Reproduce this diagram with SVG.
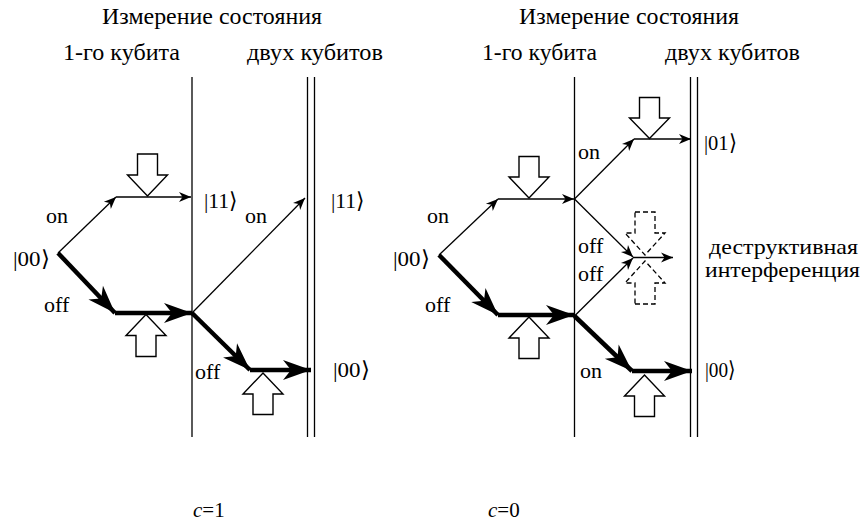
<svg xmlns="http://www.w3.org/2000/svg" width="865" height="525" viewBox="0 0 865 525">
<style>
text{font-family:"Liberation Serif","Times New Roman",serif;font-size:22px;fill:#000}
.h{font-size:23px}
.c{font-size:21px}
.thin{stroke:#000;stroke-width:1.3;fill:none;marker-end:url(#ah)}
.thick{stroke:#000;stroke-width:4.5;fill:none;marker-end:url(#AH)}
.wall{stroke:#000;stroke-width:1.3;fill:none}
.hol{fill:#fff;stroke:#000;stroke-width:1.4}
.dash{fill:none;stroke:#000;stroke-width:1.3;stroke-dasharray:5,3}
</style>
<defs>
<marker id="ah" markerUnits="userSpaceOnUse" markerWidth="14" markerHeight="12" refX="12" refY="5" orient="auto" viewBox="0 0 14 10" overflow="visible">
<path d="M12,5 L0,0 L3.5,5 L0,10 Z" fill="#000"/>
</marker>
<marker id="AH" markerUnits="userSpaceOnUse" markerWidth="30" markerHeight="22" refX="28" refY="10" orient="auto" viewBox="0 0 30 20" overflow="visible">
<path d="M28,10 L0,0 L8,10 L0,20 Z" fill="#000"/>
</marker>
</defs>

<g id="headers">
<text class="h" x="102" y="24" textLength="220" lengthAdjust="spacingAndGlyphs">Измерение состояния</text>
<text class="h" x="63" y="60" textLength="117" lengthAdjust="spacingAndGlyphs">1-го кубита</text>
<text class="h" x="247" y="60" textLength="136" lengthAdjust="spacingAndGlyphs">двух кубитов</text>
<text class="h" x="519" y="24" textLength="220" lengthAdjust="spacingAndGlyphs">Измерение состояния</text>
<text class="h" x="482" y="60" textLength="115" lengthAdjust="spacingAndGlyphs">1-го кубита</text>
<text class="h" x="665" y="60" textLength="135" lengthAdjust="spacingAndGlyphs">двух кубитов</text>
</g>

<g id="walls">
<line class="wall" x1="192" y1="77" x2="192" y2="437"/>
<line class="wall" x1="307.5" y1="77" x2="307.5" y2="437"/>
<line class="wall" x1="314.5" y1="77" x2="314.5" y2="437"/>
<line class="wall" x1="574.5" y1="77" x2="574.5" y2="437"/>
<line class="wall" x1="690.5" y1="77" x2="690.5" y2="437"/>
<line class="wall" x1="697.5" y1="77" x2="697.5" y2="437"/>
</g>

<g id="connectors">
<line class="thin" x1="58" y1="253" x2="116" y2="197"/>
<line class="thin" x1="116" y1="197" x2="191" y2="197"/>
<line class="thick" x1="58" y1="253" x2="115" y2="313"/>
<line class="thick" x1="115" y1="313" x2="192" y2="313"/>
<line class="thin" x1="192" y1="313" x2="305" y2="198"/>
<line class="thick" x1="192" y1="313" x2="250" y2="370"/>
<line class="thick" x1="250" y1="370" x2="311" y2="370"/>

<line class="thin" x1="439" y1="255" x2="498" y2="199"/>
<line class="thin" x1="498" y1="199" x2="574" y2="199"/>
<line class="thick" x1="439" y1="255" x2="498" y2="315"/>
<line class="thick" x1="498" y1="315" x2="574" y2="315"/>
<line class="thin" x1="574.5" y1="199" x2="634" y2="139"/>
<line class="thin" x1="634" y1="139" x2="691" y2="139"/>
<line class="thin" x1="574.5" y1="199" x2="633" y2="257"/>
<line class="thin" x1="574.5" y1="316" x2="633" y2="258"/>
<line class="thin" x1="633" y1="257.5" x2="673" y2="257.5"/>
<line class="thick" x1="574.5" y1="316" x2="632" y2="371"/>
<line class="thick" x1="632" y1="371" x2="692" y2="371"/>
</g>

<g id="pulses">
<polygon class="hol" points="137.5,154 157.5,154 157.5,175 167.5,175 147.5,196 127.5,175 137.5,175"/>
<polygon class="hol" points="136,356.5 156,356.5 156,335.5 166,335.5 146,314.5 126,335.5 136,335.5"/>
<polygon class="hol" points="253,414.5 273,414.5 273,394 283,394 263,373 243,394 253,394"/>
<polygon class="hol" points="519,156.5 539,156.5 539,177 549,177 529,198 509,177 519,177"/>
<polygon class="hol" points="639.5,97.5 659.5,97.5 659.5,118 669.5,118 649.5,138.5 629.5,118 639.5,118"/>
<polygon class="hol" points="519,358.5 539,358.5 539,338 549,338 529,317 509,338 519,338"/>
<polygon class="hol" points="634.5,416.5 654.5,416.5 654.5,396 664.5,396 644.5,375 624.5,396 634.5,396"/>
<polygon class="dash" points="635,212 655,212 655,233 665,233 645,255 625,233 635,233"/>
<polygon class="dash" points="635,304 655,304 655,283 665,283 645,261 625,283 635,283"/>
</g>

<g id="labels">
<text x="46" y="223">on</text>
<text x="13" y="266" textLength="37" lengthAdjust="spacingAndGlyphs">|00⟩</text>
<text x="44" y="312">off</text>
<text x="204" y="208" textLength="34" lengthAdjust="spacingAndGlyphs">|11⟩</text>
<text x="245" y="223">on</text>
<text x="331" y="208" textLength="34" lengthAdjust="spacingAndGlyphs">|11⟩</text>
<text x="195" y="379">off</text>
<text x="333" y="377" textLength="37" lengthAdjust="spacingAndGlyphs">|00⟩</text>

<text x="427" y="223">on</text>
<text x="393" y="266" textLength="37" lengthAdjust="spacingAndGlyphs">|00⟩</text>
<text x="425" y="312">off</text>
<text x="578" y="159">on</text>
<text x="704" y="150" textLength="33" lengthAdjust="spacingAndGlyphs">|01⟩</text>
<text x="578" y="253">off</text>
<text x="578" y="281">off</text>
<text x="709" y="254" textLength="149" lengthAdjust="spacingAndGlyphs">деструктивная</text>
<text x="705" y="277" textLength="155" lengthAdjust="spacingAndGlyphs">интерференция</text>
<text x="580" y="378">on</text>
<text x="705" y="377" textLength="31" lengthAdjust="spacingAndGlyphs">|00⟩</text>

<text class="c" x="193" y="517"><tspan font-style="italic">c</tspan>=1</text>
<text class="c" x="488" y="517"><tspan font-style="italic">c</tspan>=0</text>
</g>
</svg>
